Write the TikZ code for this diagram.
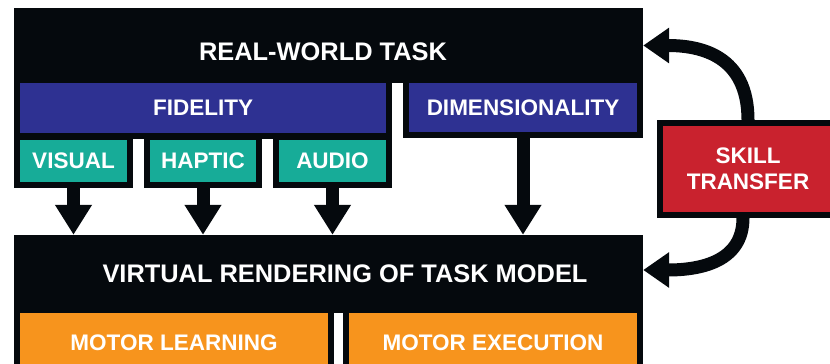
\documentclass[tikz,border=0pt]{standalone}
\usepackage{fontspec}
\setmainfont{Liberation Sans}
\usetikzlibrary{arrows.meta}

\definecolor{ink}{HTML}{05090D}
\definecolor{fidblue}{HTML}{2E3192}
\definecolor{senseteal}{HTML}{17AC98}
\definecolor{skillred}{HTML}{C9222E}
\definecolor{motororange}{HTML}{F7941D}

\tikzset{
    boxed/.style={draw=ink, line width=6pt, inner sep=0pt, align=center,
        text=white, font=\bfseries\fontsize{22.5}{26}\selectfont},
    slab/.style={fill=ink, inner sep=0pt},
    title/.style={text=white, font=\bfseries\fontsize{25.4}{28}\selectfont},
    flow/.style={draw=ink, line width=13pt, -{Triangle[width=35pt,length=30pt]}},
    transfer/.style={draw=ink, line width=13pt, -{Triangle[width=34pt,length=26pt]}}
}

\begin{document}
\begin{tikzpicture}[x=1pt, y=-1pt]
        \useasboundingbox (0, 0) rectangle (830, 364);
        \clip (0, 0) rectangle (830, 364);

        \node [boxed, fill=fidblue, minimum width=372, minimum height=56] (fidelity) at (203, 108) {FIDELITY};
        \node [boxed, fill=fidblue, minimum width=234, minimum height=55] (dimension) at (523, 107.5) {DIMENSIONALITY};
        \node [slab, minimum width=629, minimum height=75] (realw) at (328.5, 45.5) {};
        \node [title] (realwtitle) at (323, 51.5) {REAL-WORLD TASK};

        \node [boxed, fill=senseteal, minimum width=113, minimum height=48] (visual) at (73.5, 161) {VISUAL};
        \node [boxed, fill=senseteal, minimum width=112, minimum height=48] (haptic) at (203, 161) {HAPTIC};
        \node [boxed, fill=senseteal, minimum width=113, minimum height=48] (audio) at (332.5, 161) {AUDIO};

        \node [boxed, fill=motororange, minimum width=314, minimum height=66] (learning) at (174, 343) {MOTOR LEARNING};
        \node [boxed, fill=motororange, minimum width=294, minimum height=66] (execution) at (493, 343) {MOTOR EXECUTION};
        \node [slab, minimum width=629, minimum height=78] (virtual) at (328.5, 274) {};
        \node [title] (virtualtitle) at (345, 274) {VIRTUAL RENDERING OF TASK MODEL};

        \node [boxed, fill=skillred, minimum width=176, minimum height=92] (skill) at (748, 169) {SKILL\\TRANSFER};

        \draw [flow] (visual.south) -- (visual.south |- virtual.north);
        \draw [flow] (haptic.south) -- (haptic.south |- virtual.north);
        \draw [flow] (audio.south) -- (audio.south |- virtual.north);
        \draw [flow] (dimension.south) -- (dimension.south |- virtual.north);

        \draw [transfer] (skill.north) .. controls (748, 55) and (700, 45.5) .. (realw.east);
        \draw [transfer] ([xshift=-5pt]skill.south) .. controls (743, 262) and (700, 270) .. ([yshift=4pt]virtual.east);
    \end{tikzpicture}
\end{document}
